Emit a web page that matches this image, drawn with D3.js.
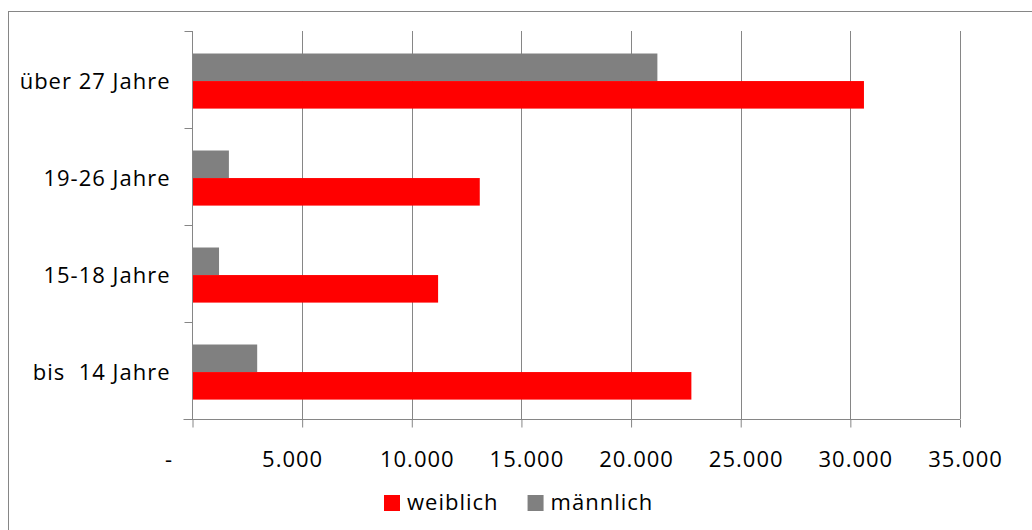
<!DOCTYPE html>
<html>
<head>
<meta charset="utf-8">
<script src="https://cdn.jsdelivr.net/npm/d3@7"></script>
<style>
  body { margin: 0; background: #fff; }
  text { font-family: "Open Sans", sans-serif; font-size: 22px; fill: #000; letter-spacing: 1px; }
</style>
</head>
<body>
<script>
// Altersgruppen, oben nach unten
const categories = ["über 27 Jahre", "19-26 Jahre", "15-18 Jahre", "bis  14 Jahre"];
const seriesNames = ["männlich", "weiblich"];
const maennlich = [21200, 1660, 1210, 2950];
const weiblich  = [30620, 13100, 11200, 22750];
const xTicks = [0, 5000, 10000, 15000, 20000, 25000, 30000, 35000];
const legendOrder = ["weiblich", "männlich"];

const width = 1032, height = 530;
const plot = { left: 192.5, right: 960, top: 31, bottom: 419 };
const colors = { "weiblich": "#ff0000", "männlich": "#808080" };
const axisColor = "#868686";

const svg = d3.select("body").append("svg")
  .attr("width", width)
  .attr("height", height);

// Rahmen (geht rechts/unten über das Bild hinaus)
svg.append("rect")
  .attr("x", 8.5).attr("y", 11.5)
  .attr("width", width).attr("height", height)
  .attr("fill", "none")
  .attr("stroke", axisColor);

const x = d3.scaleLinear().domain([0, 35000]).range([plot.left, plot.right]);
const y = d3.scaleBand().domain(categories).range([plot.top, plot.bottom]);
const ySub = d3.scaleBand().domain(seriesNames)
  .range([y.step() * 0.232, y.step() * 0.8]);

const data = categories.map((c, i) => ({ cat: c, "männlich": maennlich[i], "weiblich": weiblich[i] }));

// Gitterlinien
svg.append("g").selectAll("line")
  .data(xTicks.slice(1))
  .enter().append("line")
  .attr("x1", d => Math.round(x(d)) + 0.5)
  .attr("x2", d => Math.round(x(d)) + 0.5)
  .attr("y1", plot.top)
  .attr("y2", plot.bottom)
  .attr("stroke", axisColor);

// Balken
const groups = svg.append("g").selectAll("g")
  .data(data)
  .enter().append("g")
  .attr("transform", d => `translate(0,${y(d.cat)})`);

groups.selectAll("rect")
  .data(d => seriesNames.map(s => ({ s, v: d[s] })))
  .enter().append("rect")
  .attr("x", x(0))
  .attr("y", d => ySub(d.s))
  .attr("width", d => x(d.v) - x(0))
  .attr("height", ySub.bandwidth())
  .attr("fill", d => colors[d.s]);

// x-Achse
const xAxis = svg.append("g")
  .attr("transform", `translate(0,${plot.bottom + 0.5})`)
  .call(d3.axisBottom(x).tickValues(xTicks).tickSize(8).tickSizeOuter(0)
    .tickFormat(d => d === 0 ? "-" : d3.format(",")(d).replace(/,/g, ".")));
xAxis.select(".domain").attr("stroke", axisColor).attr("d", `M${plot.left - 9},0H${plot.right}`);
xAxis.selectAll(".tick line").attr("stroke", axisColor);
xAxis.selectAll(".tick text")
  .attr("y", 47)
  .attr("dy", 0)
  .attr("dx", d => d === 0 ? -24 : (d < 10000 ? -10 : 5))
  .style("font-family", null).style("font-size", null).attr("font-family", null).attr("font-size", null);

// y-Achse
const yAxis = svg.append("g")
  .attr("transform", `translate(${plot.left},0)`);
yAxis.append("line")
  .attr("x1", 0).attr("x2", 0)
  .attr("y1", plot.top).attr("y2", plot.bottom)
  .attr("stroke", axisColor);
yAxis.selectAll(".ytick")
  .data(categories.map(c => y(c)))
  .enter().append("line")
  .attr("x1", -8).attr("x2", 0)
  .attr("y1", d => Math.round(d) + 0.5)
  .attr("y2", d => Math.round(d) + 0.5)
  .attr("stroke", axisColor);
yAxis.selectAll(".ylabel")
  .data(categories)
  .enter().append("text")
  .attr("x", -22)
  .attr("y", d => y(d) + y.bandwidth() / 2 + 9)
  .attr("text-anchor", "end")
  .style("white-space", "pre")
  .text(d => d);

svg.selectAll(".domain, .tick text").attr("font-family", null);
xAxis.attr("font-family", null).attr("font-size", null);

// Legende
const legend = svg.append("g").attr("transform", "translate(384,495)");
let lx = 0;
legendOrder.forEach(name => {
  const item = legend.append("g").attr("transform", `translate(${lx},0)`);
  item.append("rect").attr("width", 16).attr("height", 16).attr("fill", colors[name]);
  const t = item.append("text").attr("x", 23).attr("y", 15).text(name);
  lx += 23 + t.node().getComputedTextLength() + 29;
});
</script>
</body>
</html>
